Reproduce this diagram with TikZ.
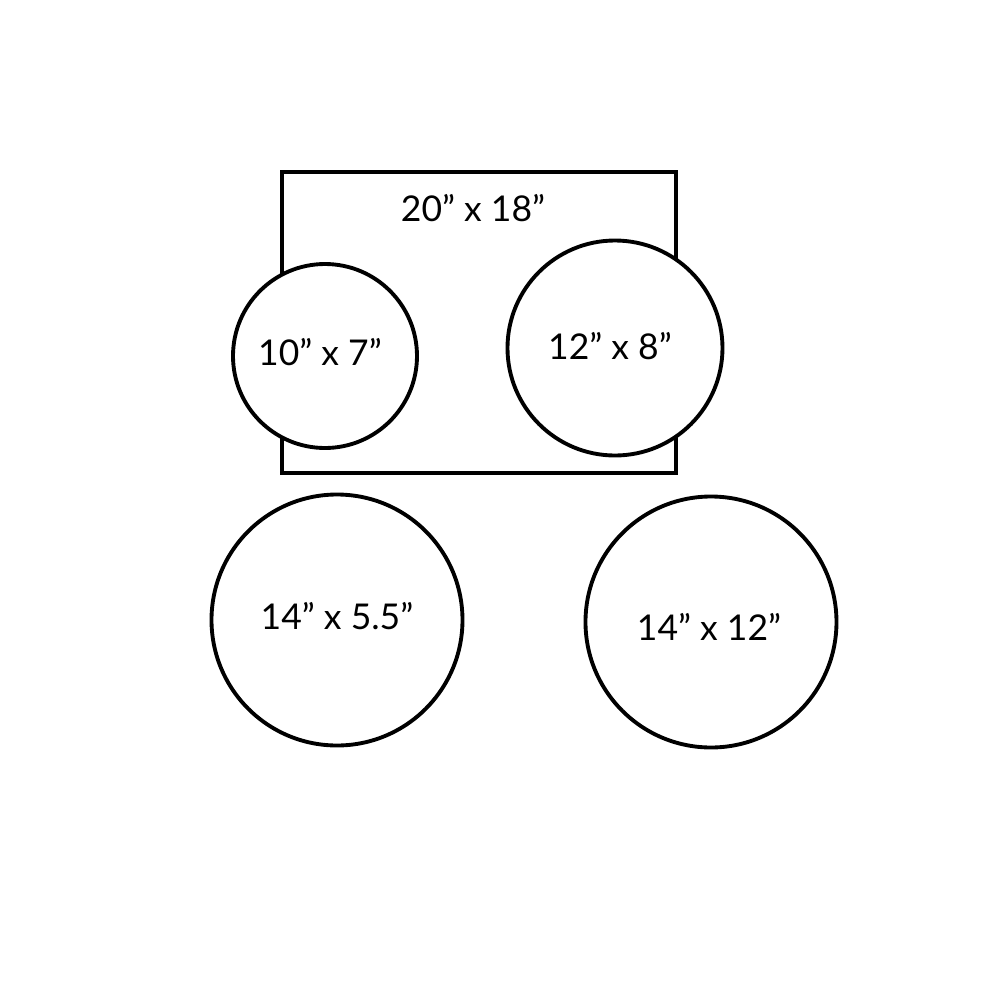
\documentclass[tikz,border=0pt]{standalone}
\usepackage{fontspec}
\setmainfont{Lato}
\usepackage{xcolor}
\usepackage{tikz}
\definecolor{ink}{HTML}{000000}
\definecolor{paper}{HTML}{FFFFFF}
\tikzset{
  tray/.style={draw=ink, line width=1.1pt, line join=miter},
  pan/.style={circle, draw=ink, fill=paper, line width=1.1pt, inner sep=0pt},
  lab/.style={text=ink, font=\fontsize{10.1}{12}\selectfont, inner sep=0pt},
}
\begin{document}
\begin{tikzpicture}[x=0.1mm,y=-0.1mm]
  \useasboundingbox[fill=paper] (0,0) rectangle (1000,1000);
  \coordinate (TL) at (282,172);
  \coordinate (BR) at (676,473);
  \draw[tray] (TL) rectangle (BR);
  \node[lab] (traylab) at (473,208) {20” x 18”};
  \node[pan, minimum size=18.4mm] (panA) at (325,356) {};
  \node[pan, minimum size=21.5mm] (panB) at (615,348) {};
  \node[pan, minimum size=25.1mm] (panC) at (337,620) {};
  \node[pan, minimum size=25.1mm] (panD) at (711,622) {};
  \node[lab] (labA) at (320,352) {10” x 7”};
  \node[lab] (labB) at (610,346) {12” x 8”};
  \node[lab] (labC) at (337,616) {14” x 5.5”};
  \node[lab] (labD) at (709,627) {14” x 12”};
\end{tikzpicture}
\end{document}
